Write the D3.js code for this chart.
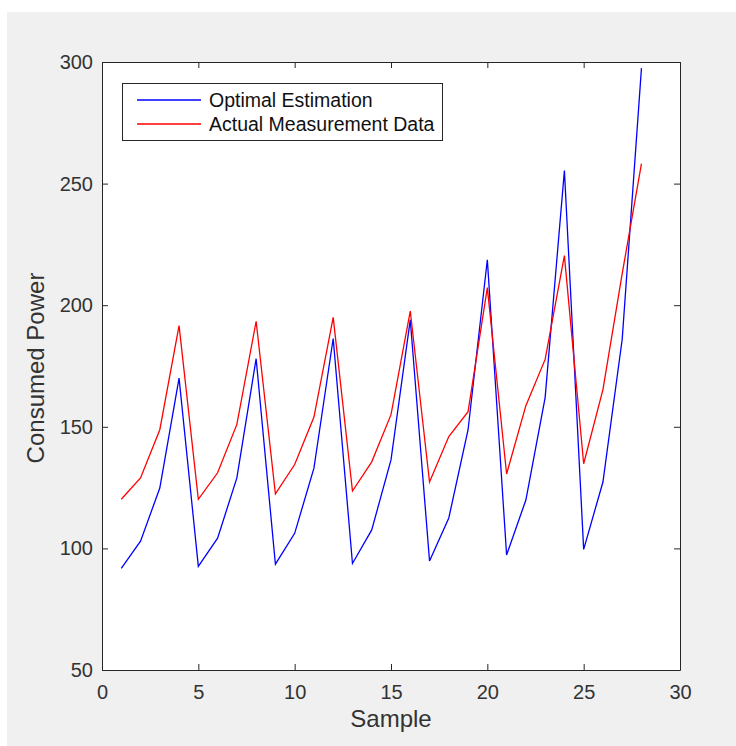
<!DOCTYPE html>
<html><head><meta charset="utf-8">
<script src="https://cdn.jsdelivr.net/npm/d3@7"></script>
<style>body{margin:0;background:#fff;}svg{display:block;}</style>
</head><body>
<script>
const samples = d3.range(1, 29);
const optimal = [91.8,103,124.8,170,92.6,104.2,129,178,93.5,106.2,133,186.3,93.8,107.6,136.4,194,94.8,112.5,148.8,218.7,97.3,119.9,162,255.4,99.6,127.3,186,297.5];
const actual = [120.2,129,148.8,191.6,120.2,131.1,151,193.4,122.4,134.5,154,195,123.6,135.6,155,197.6,127.3,146,156.2,207.2,130.6,158.7,177.7,220.4,134.8,165.3,213,258.2];
const xTicks = [0,5,10,15,20,25,30];
const yTicks = [50,100,150,200,250,300];
const seriesNames = ["Optimal Estimation","Actual Measurement Data"];
const seriesColors = ["#0000ff","#ff0000"];

const W = 736, H = 746;
const svg = d3.select("body").append("svg").attr("width", W).attr("height", H);
svg.append("rect").attr("x",7).attr("y",12).attr("width",W-7).attr("height",H-12).attr("fill","#f0f0f0");

const L = 102, R = 680, T = 62, B = 670;
const x = d3.scaleLinear().domain([0,30]).range([L,R]);
const y = d3.scaleLinear().domain([50,300]).range([B,T]);

svg.append("rect").attr("x",L).attr("y",T).attr("width",R-L).attr("height",B-T).attr("fill","#fff");

const font = "'Liberation Sans', Arial, Helvetica, sans-serif";
const axColor = "#262626";
const txtColor = "#333333";

function styleAxis(g, showLabels){
  g.select(".domain").attr("stroke", axColor).attr("stroke-width",1);
  g.selectAll(".tick line").attr("stroke", axColor);
  g.selectAll(".tick text").attr("fill", txtColor).style("font-family", font).style("font-size","20px");
  if(!showLabels) g.selectAll(".tick text").remove();
}
const gx = svg.append("g").attr("transform",`translate(0,${B})`)
  .call(d3.axisBottom(x).tickValues(xTicks).tickSizeInner(-6).tickSizeOuter(0).tickPadding(15));
styleAxis(gx,true);
const gxt = svg.append("g").attr("transform",`translate(0,${T})`)
  .call(d3.axisTop(x).tickValues(xTicks).tickSizeInner(-6).tickSizeOuter(0));
styleAxis(gxt,false);
const gy = svg.append("g").attr("transform",`translate(${L},0)`)
  .call(d3.axisLeft(y).tickValues(yTicks).tickSizeInner(-6).tickSizeOuter(0).tickPadding(9));
styleAxis(gy,true);
const gyr = svg.append("g").attr("transform",`translate(${R},0)`)
  .call(d3.axisRight(y).tickValues(yTicks).tickSizeInner(-6).tickSizeOuter(0));
styleAxis(gyr,false);

const line = d3.line().x((d,i)=>x(samples[i])).y(d=>y(d));
[optimal, actual].forEach((s,k)=>{
  svg.append("path").datum(s).attr("d", line).attr("fill","none")
    .attr("stroke", seriesColors[k]).attr("stroke-width",1.3);
});

svg.append("text").attr("x",391).attr("y",727).attr("text-anchor","middle")
  .style("font-family",font).style("font-size","24px").attr("fill",txtColor).text("Sample");
svg.append("text").attr("transform",`translate(44,368) rotate(-90)`).attr("text-anchor","middle")
  .style("font-family",font).style("font-size","24px").attr("fill",txtColor).text("Consumed Power");

// legend
const lg = svg.append("g");
lg.append("rect").attr("x",122.5).attr("y",83.5).attr("width",320).attr("height",57)
  .attr("fill","#fff").attr("stroke",axColor).attr("stroke-width",1);
seriesNames.forEach((n,k)=>{
  const yy = 100 + k*24;
  lg.append("line").attr("x1",137).attr("x2",201).attr("y1",yy).attr("y2",yy)
    .attr("stroke",seriesColors[k]).attr("stroke-width",1.3);
  lg.append("text").attr("x",209).attr("y",yy+7).style("font-family",font).style("font-size","19.5px")
    .attr("fill","#111").text(n);
});
</script>
</body></html>
